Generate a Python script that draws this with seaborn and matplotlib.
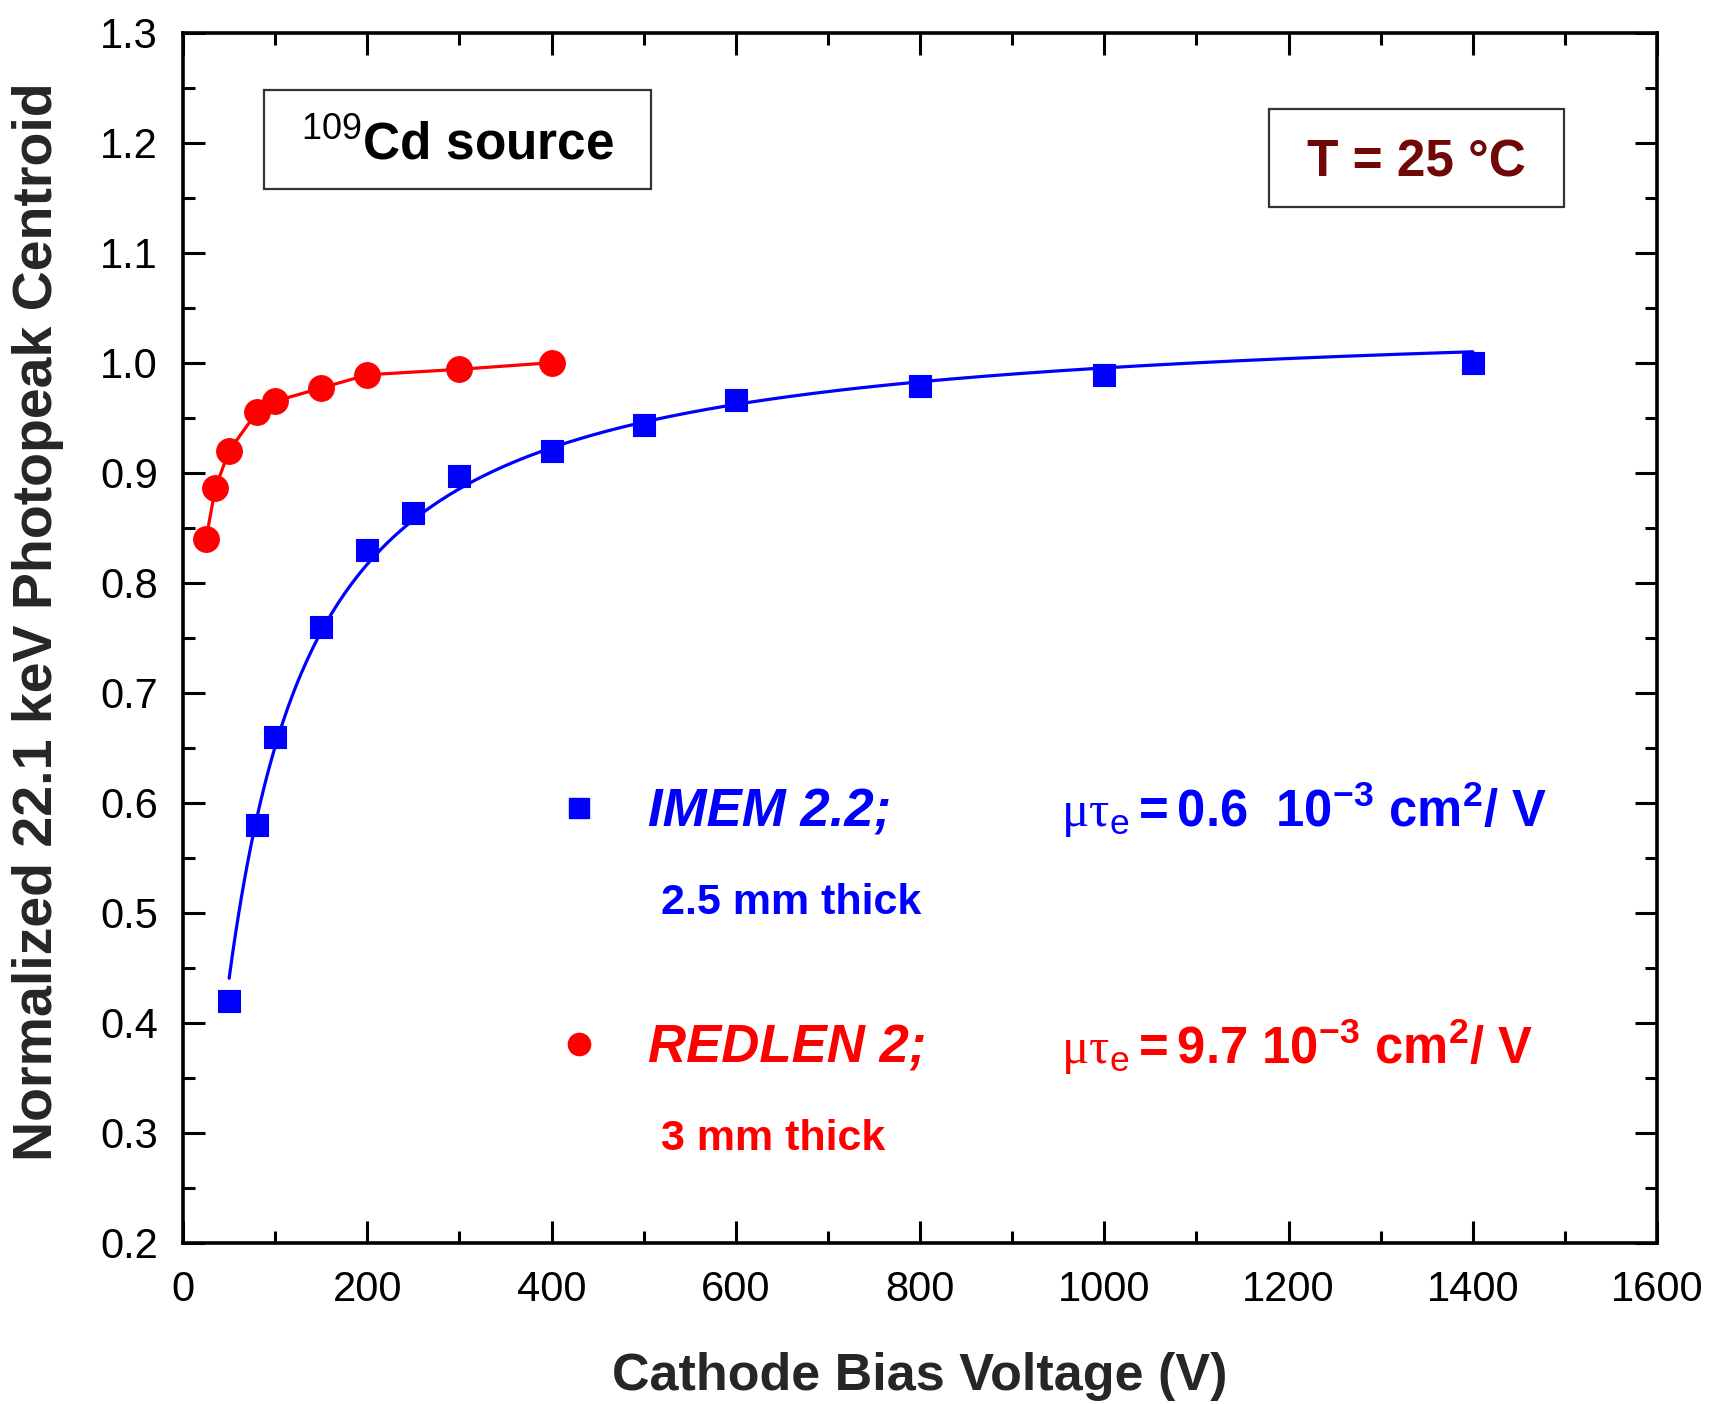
import numpy as np
import matplotlib
matplotlib.use('Agg')
import matplotlib.pyplot as plt
import seaborn as sns
from matplotlib.lines import Line2D
from matplotlib.patches import Rectangle
from matplotlib.ticker import MultipleLocator

# ---------------- data ----------------
imem_voltage = [50, 80, 100, 150, 200, 250, 300, 400, 500, 600, 800, 1000, 1400]
imem_centroid = [0.42, 0.58, 0.66, 0.76, 0.83, 0.863, 0.897, 0.92, 0.943, 0.966, 0.979, 0.989, 1.0]

redlen_voltage = [25, 35, 50, 80, 100, 150, 200, 300, 400]
redlen_centroid = [0.84, 0.886, 0.92, 0.955, 0.965, 0.977, 0.989, 0.994, 1.0]

# Hecht-equation fit drawn for IMEM (parameters as given in the figure)
imem_mu_tau = 0.6e-3       # cm^2/V
imem_thickness = 0.25      # cm
imem_fit_amplitude = 1.048
fit_v_range = (50, 1400)

x_major = [0, 200, 400, 600, 800, 1000, 1200, 1400, 1600]
y_major = [0.2, 0.3, 0.4, 0.5, 0.6, 0.7, 0.8, 0.9, 1.0, 1.1, 1.2, 1.3]

# ---------------- style ----------------
sns.set_style('ticks')
plt.rcParams['font.family'] = ['Liberation Sans', 'DejaVu Sans']
plt.rcParams['mathtext.fontset'] = 'custom'
plt.rcParams['mathtext.rm'] = 'Liberation Serif'
plt.rcParams['mathtext.bf'] = 'Liberation Sans:bold'
plt.rcParams['mathtext.sf'] = 'Liberation Sans'
plt.rcParams['mathtext.it'] = 'Liberation Sans:italic'

fig = plt.figure(figsize=(17.11, 14.04), dpi=100)
ax = fig.add_axes([0.107, 0.1149, 0.8615, 0.8618])

# Fit curve
v_fit = np.linspace(fit_v_range[0], fit_v_range[1], 400)
lam = imem_mu_tau * v_fit / imem_thickness ** 2
cce_fit = imem_fit_amplitude * lam * (1 - np.exp(-1 / lam))
sns.lineplot(x=v_fit, y=cce_fit, color='#0000ff', lw=2.3, ax=ax, zorder=2)
sns.scatterplot(x=imem_voltage, y=imem_centroid, marker='s', s=265, color='#0000ff',
                edgecolor='#0000ff', linewidth=0.8, ax=ax, zorder=3)

sns.lineplot(x=redlen_voltage, y=redlen_centroid, color='#ff0000', lw=2.3, marker='o',
             markersize=18.5, markeredgecolor='#ff0000', markeredgewidth=0.8, ax=ax, zorder=3)

ax.set_xlim(0, 1600)
ax.set_ylim(0.2, 1.3)
ax.set_xticks(x_major)
ax.set_yticks(y_major)
ax.set_yticklabels([f'{v:.1f}' for v in y_major])
ax.xaxis.set_minor_locator(MultipleLocator(100))
ax.yaxis.set_minor_locator(MultipleLocator(0.05))
ax.tick_params(which='both', direction='in', top=True, right=True, width=2.2, colors='black')
ax.tick_params(which='major', length=16, labelsize=30)
ax.tick_params(which='minor', length=8.5)
ax.tick_params(axis='x', which='major', pad=20)
ax.tick_params(axis='y', which='major', pad=18)
for sp in ax.spines.values():
    sp.set_linewidth(2.6)
    sp.set_color('black')

ax.set_xlabel('Cathode Bias Voltage (V)', fontsize=37.5, fontweight='bold', labelpad=30)
ax.set_ylabel('Normalized 22.1 keV Photopeak Centroid', fontsize=40, fontweight='bold')
ax.yaxis.set_label_coords(-0.081, 0.513)

# ---------------- annotation boxes ----------------
ax.add_patch(Rectangle((0.055, 0.8708), 0.2625, 0.0818, transform=ax.transAxes,
                       fill=False, edgecolor='#333333', lw=1.6, zorder=4))
ax.text(0.186, 0.907, r'$^{\mathsf{109}}$Cd source', transform=ax.transAxes,
        ha='center', va='center', fontsize=37, fontweight='bold', color='black')

ax.add_patch(Rectangle((0.737, 0.856), 0.1998, 0.081, transform=ax.transAxes,
                       fill=False, edgecolor='#333333', lw=1.6, zorder=4))
ax.text(0.837, 0.892, 'T = 25 °C', transform=ax.transAxes, ha='center', va='center',
        fontsize=37, fontweight='bold', color='#700808')

# ---------------- legend ----------------
handles = [Line2D([], [], ls='none', marker='s', ms=15, color='#0000ff'),
           Line2D([], [], ls='none', marker='o', ms=16, color='#ff0000')]
leg = ax.legend(handles, ['IMEM 2.2;', 'REDLEN 2;'], loc='upper left',
                bbox_to_anchor=(0.2505, 0.3765), frameon=False, borderpad=0, borderaxespad=0,
                handlelength=1.0, handletextpad=0.82, labelspacing=3.54,
                prop={'family': 'Liberation Sans', 'weight': 'bold', 'style': 'italic', 'size': 38})
for t, c in zip(leg.get_texts(), ['#0000ff', '#ff0000']):
    t.set_color(c)

ax.text(0.5957, 0.3436, r'$\mathrm{\mu\tau}_{\mathsf{e}}\mathbf{= 0.6\ \ 10^{-3}\ cm^{2}/\ V}$',
        transform=ax.transAxes, ha='left', va='baseline', fontsize=36.5, color='#0000ff')
ax.text(0.324, 0.2715, '2.5 mm thick', transform=ax.transAxes, ha='left', va='baseline',
        fontsize=31, fontweight='bold', color='#0000ff')
ax.text(0.5957, 0.148, r'$\mathrm{\mu\tau}_{\mathsf{e}}\mathbf{= 9.7\ 10^{-3}\ cm^{2}/\ V}$',
        transform=ax.transAxes, ha='left', va='baseline', fontsize=36.5, color='#ff0000')
ax.text(0.324, 0.077, '3 mm thick', transform=ax.transAxes, ha='left', va='baseline',
        fontsize=31, fontweight='bold', color='#ff0000')

fig.savefig('out.png', dpi=100)
